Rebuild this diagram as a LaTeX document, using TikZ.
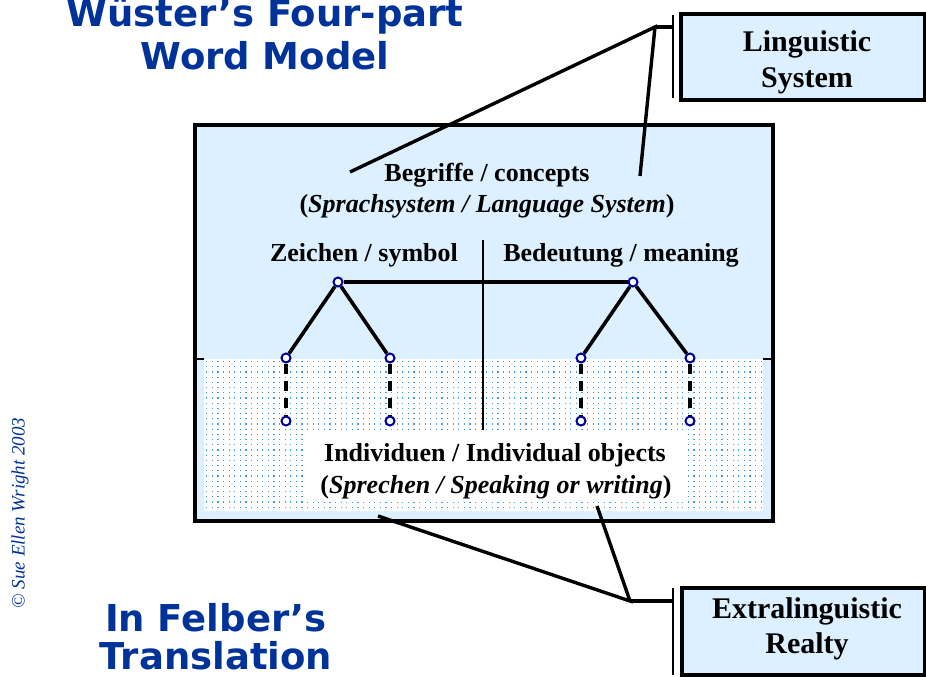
\documentclass[tikz,border=0pt]{standalone}
\usepackage{fontspec}
\setmainfont{Liberation Serif}
\newfontfamily\titlefont{DejaVu Sans}

\definecolor{paleblue}{HTML}{DCF0FF}
\definecolor{dotblue}{HTML}{3C9BEA}
\definecolor{titleblue}{HTML}{003399}
\definecolor{nodeblue}{HTML}{000099}

\tikzset{
  title/.style={font=\titlefont\bfseries\fontsize{37}{44}\selectfont, text=titleblue, anchor=base, inner sep=0pt},
  innerlabel/.style={font=\bfseries\fontsize{26}{30}\selectfont, anchor=base, inner sep=0pt},
  boxtext/.style={font=\bfseries\fontsize{30}{36}\selectfont, anchor=base, inner sep=0pt},
  sidebox/.style={draw=black, fill=paleblue, line width=3.2pt, inner sep=0pt},
  dot/.style={circle, draw=nodeblue, fill=white, line width=2pt, minimum size=9pt, inner sep=0pt},
  branch/.style={line width=3.6pt},
  link/.style={line width=3.6pt, dash pattern=on 10pt off 7pt},
  callout/.style={line width=3.4pt},
  bar/.style={line width=2.6pt},
}

\begin{document}
\begin{tikzpicture}[x=1pt, y=-1pt]
  \useasboundingbox (0,0) rectangle (926,677);
  \clip (0,0) rectangle (926,677);

  % main frame
  \fill[paleblue] (195,125) rectangle (773,521);
  \fill[white] (204,359) rectangle (763,511);
  % raster of small blue dots in the lower area
  \begin{scope}
    \clip (204,359) rectangle (763,511);
    \foreach \row in {0,...,29} {
      \foreach \col in {0,...,99} {
        \fill[dotblue] ({206.2+5.6*\col},{361+5.2*\row}) rectangle +(1.2,1.2);
      }
    }
  \end{scope}
  \fill[white] (307,430) rectangle (687,502);
  \draw[line width=3.2pt] (195,125) rectangle (773,521);
  \draw[line width=1.8pt] (195,359) -- (204,359) (763,359) -- (773,359);

  % divider between symbol and meaning
  \draw[line width=1.6pt] (483,240) -- (483,430);

  % texts inside the frame
  \node[innerlabel] (begr) at (487,181) {Begriffe / concepts};
  \node[innerlabel] (sprs) at (487,212) {(\textit{Sprachsystem / Language System})};
  \node[innerlabel] (zeich) at (364,261) {Zeichen / symbol};
  \node[innerlabel] (bedeu) at (621,261) {Bedeutung / meaning};
  \node[innerlabel] (indiv) at (495,461) {Individuen / Individual objects};
  \node[innerlabel] (sprech) at (496,493) {(\textit{Sprechen / Speaking or writing})};

  % the two trees
  \node[dot] (lt) at (338,282) {};
  \node[dot] (la) at (286,358) {};
  \node[dot] (lb) at (390,358) {};
  \node[dot] (la2) at (286,421) {};
  \node[dot] (lb2) at (390,421) {};
  \node[dot] (rt) at (633,282) {};
  \node[dot] (ra) at (581,358) {};
  \node[dot] (rb) at (690,358) {};
  \node[dot] (ra2) at (581,421) {};
  \node[dot] (rb2) at (690,421) {};

  \draw[branch] (la) -- (lt) -- (lb);
  \draw[branch] (ra) -- (rt) -- (rb);
  \draw[branch] (lt) -- (rt);
  \draw[link] (la) -- (la2);
  \draw[link] (lb) -- (lb2);
  \draw[link] (ra) -- (ra2);
  \draw[link] (rb) -- (rb2);

  % side boxes
  \node[sidebox, minimum width=244pt, minimum height=86pt] (ling) at (803,57) {};
  \node[boxtext] (ling1) at (807,52) {Linguistic};
  \node[boxtext] (ling2) at (807,88) {System};
  \node[sidebox, minimum width=243pt, minimum height=87pt] (extra) at (803.5,631.5) {};
  \node[boxtext] (extra1) at (807,618) {Extralinguistic};
  \node[boxtext] (extra2) at (807,653) {Realty};

  % callout lines
  \coordinate (jt) at (655,27);
  \coordinate (jb) at (630,601);
  \coordinate (ct1) at (350,172);
  \coordinate (ct2) at (640,176);
  \coordinate (cb1) at (378,516);
  \coordinate (cb2) at (597,506);
  \coordinate (bt) at (673,27);
  \coordinate (bb) at (673,601);
  \draw[callout] (ct1) -- (jt) -- (ct2);
  \draw[callout] (jt) -- (bt);
  \draw[callout] (cb1) -- (jb) -- (cb2);
  \draw[callout] (jb) -- (bb);
  \draw[bar] (673,15) -- (673,98);
  \draw[bar] (673,588) -- (673,675);

  % titles
  \node[title] (t1) at (265,27) {Wüster’s Four-part};
  \node[title] (t2) at (265,70) {Word Model};
  \node[title] (t3) at (216,631) {In Felber’s};
  \node[title] (t4) at (216,669) {Translation};

  % copyright line
  \node[rotate=90, inner sep=0pt, text=titleblue, font=\itshape\fontsize{19}{21}\selectfont] (copy) at (20,513) {© Sue Ellen Wright 2003};
\end{tikzpicture}
\end{document}
